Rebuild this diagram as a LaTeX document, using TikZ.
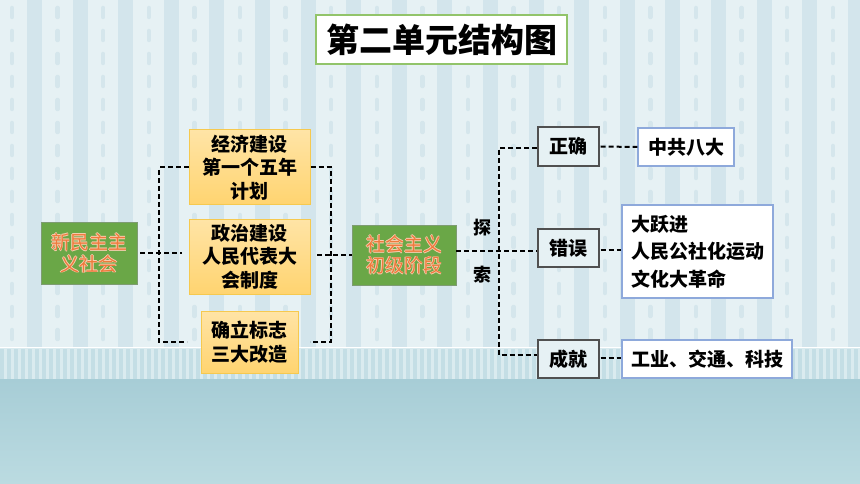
\documentclass[tikz,border=0pt]{standalone}
\usepackage{fontspec}
\setmainfont{Noto Sans CJK SC}
\newfontfamily\heavyfont{Noto Sans CJK SC Black}
\usetikzlibrary{calc}
\definecolor{bgtop}{HTML}{E6F1F4}
\definecolor{stripec}{HTML}{D3E5EC}
\definecolor{dashc}{HTML}{D5E6EC}
\definecolor{bandc}{HTML}{DAEBEF}
\definecolor{bandl}{HTML}{C4DEE5}
\definecolor{lowtop}{HTML}{A7CDD6}
\definecolor{lowbot}{HTML}{BBDBE1}
\definecolor{greenfill}{HTML}{6AA747}
\definecolor{greenedge}{HTML}{7E9C72}
\definecolor{orangetxt}{HTML}{EE7B3C}
\definecolor{glowc}{HTML}{F9CDB0}
\definecolor{boxtop}{HTML}{FFE4A6}
\definecolor{boxbot}{HTML}{FFD470}
\definecolor{boxedge}{HTML}{F6C94F}
\definecolor{blueedge}{HTML}{8EA9DB}
\definecolor{titleedge}{HTML}{92C46A}
\definecolor{grayedge}{HTML}{505050}
\newcommand\glowln[1]{\leavevmode\rlap{\color{glowc}\hspace{-0.7pt}#1}\rlap{\color{glowc}\hspace{0.7pt}#1}\rlap{\color{glowc}\raisebox{0.7pt}{#1}}\rlap{\color{glowc}\raisebox{-0.7pt}{#1}}{\color{orangetxt}#1}}
\tikzset{
  basebox/.style={rectangle, inner sep=0pt, font=\fontsize{19}{23.5}\selectfont\bfseries, align=center},
  greenbox/.style={basebox, fill=greenfill, draw=greenedge, line width=0.8pt, font=\fontsize{19}{21.5}\selectfont},
  orangebox/.style={basebox, top color=boxtop, bottom color=boxbot, draw=boxedge, line width=1pt},
  graybox/.style={basebox, fill=bgtop, draw=grayedge, line width=1.2pt},
  bluebox/.style={basebox, fill=white, draw=blueedge, line width=1.3pt},
  titlebox/.style={rectangle, inner sep=0pt, fill=white, draw=titleedge, line width=1.3pt, font=\fontsize{33}{36}\selectfont\heavyfont},
  lbl/.style={inner sep=0pt, font=\fontsize{18}{20}\selectfont\bfseries},
  dl/.style={black, line width=2pt, dash pattern=on 5pt off 3pt}
}
\begin{document}
\begin{tikzpicture}[x=1pt,y=-1pt]
\useasboundingbox (0,0) rectangle (860,484);
% background
\fill[bgtop] (0,0) rectangle (860,347);
\foreach \i in {0,...,18} {
  \fill[stripec] ({27+45.6*\i},0) rectangle ++(15,347);
  \draw[dashc, line width=4.5pt, line cap=round, dash pattern=on 9pt off 14pt] ({12+45.6*\i},8) -- ({12+45.6*\i},340);
}
\fill[bandc] (0,348) rectangle (860,379);
\foreach \x in {0,7,...,860} \fill[bandl] (\x,349) rectangle ++(3.5,30);
\draw[white, line width=1.5pt] (0,347.5) -- (860,347.5);
\shade[top color=lowtop, bottom color=lowbot] (0,379) rectangle (860,484);

% title
\node[titlebox, minimum width=251pt, minimum height=49pt] (title) at (441.5,39.5) {第二单元结构图};

% left part
\node[greenbox, minimum width=96pt, minimum height=62pt] (xmz) at (89,253) {\glowln{新民主主}\\\glowln{义社会}};
\node[orangebox, minimum width=121pt, minimum height=75pt] (jj) at (249.5,167.5) {经济建设\\第一个五年\\计划};
\node[orangebox, minimum width=121pt, minimum height=75pt] (zz) at (249.5,256.5) {政治建设\\人民代表大\\会制度};
\node[orangebox, minimum width=97pt, minimum height=62pt] (ql) at (249.5,342) {确立标志\\三大改造};
\node[greenbox, minimum width=104pt, minimum height=60pt] (sh) at (404,255) {\glowln{社会主义}\\\glowln{初级阶段}};

\coordinate (lmid) at (182,253);
\coordinate (lbend) at (187,342);
\coordinate (rmid) at (317,255);
\coordinate (rbend) at (310,342);
\draw[dl] (jj.west) -- (159,167.5) -- (159,342) -- (lbend);
\draw[dl] ([xshift=3pt]xmz.east) -- (lmid);
\draw[dl] (jj.east) -- (331,167.5) -- (331,342) -- (rbend);
\draw[dl] (rmid) -- (sh.west);

% right part
\node[graybox, minimum width=61pt, minimum height=39pt] (zq) at (568.5,146.5) {正确};
\node[graybox, minimum width=61pt, minimum height=38pt] (cw) at (568.5,248) {错误};
\node[graybox, minimum width=61pt, minimum height=38pt] (cj) at (568.5,359) {成就};
\node[bluebox, minimum width=96pt, minimum height=38pt] (zg) at (686,147) {中共八大};
\node[bluebox, minimum width=151pt, minimum height=93pt, align=left, font=\fontsize{19}{27.5}\selectfont\bfseries] (dy) at (697.5,251.5) {大跃进\\人民公社化运动\\文化大革命};
\node[bluebox, minimum width=170pt, minimum height=38pt] (gy) at (707,359) {工业、交通、科技};
\node[lbl] (tan) at (482,228) {探};
\node[lbl] (suo) at (482,275) {索};

\draw[dl] (sh.east |- 0,251) -- (cw.west |- 0,251);
\draw[dl] (zq.west |- 0,148) -- (499,148) -- (499,355) -- (cj.west |- 0,355);
\draw[dl] ([xshift=1pt]zq.east) -- (zg.west);
\draw[dl] ([xshift=1pt]cw.east |- 0,250) -- (dy.west |- 0,250);
\draw[dl] ([xshift=1pt]cj.east |- 0,358) -- (gy.west |- 0,358);
\end{tikzpicture}
\end{document}
